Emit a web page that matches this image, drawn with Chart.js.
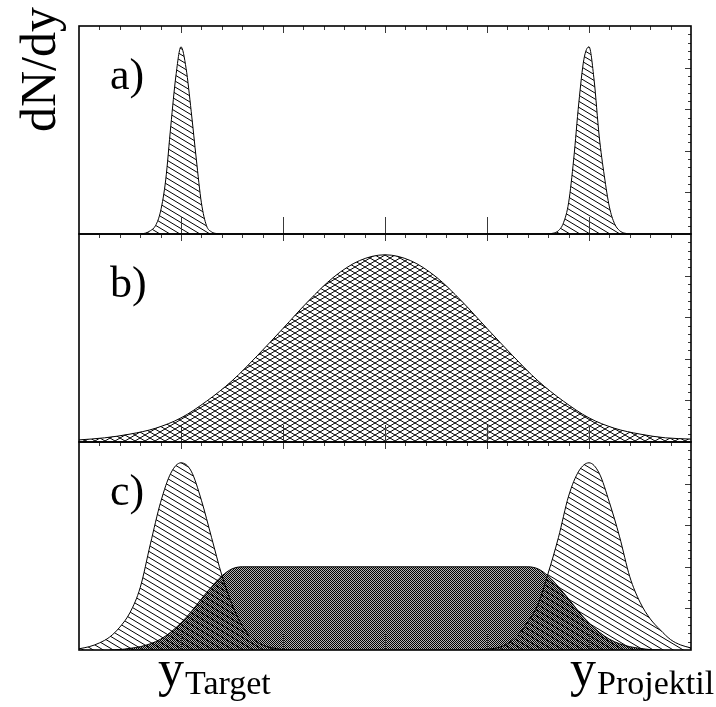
<!DOCTYPE html>
<html>
<head>
<meta charset="utf-8">
<script src="https://cdn.jsdelivr.net/npm/chart.js@4.4.1/dist/chart.umd.min.js"></script>
<style>
  html, body { margin: 0; padding: 0; background: #fff; }
  #wrap { position: relative; width: 716px; height: 707px; }
  #wrap canvas { position: absolute; left: 0; top: 0; }
</style>
</head>
<body>
<div id="wrap">
  <canvas id="panelA" width="716" height="707"></canvas>
  <canvas id="panelB" width="716" height="707"></canvas>
  <canvas id="panelC" width="716" height="707"></canvas>
</div>
<script>
// Rapidity axis (arbitrary units) and panel captions
const xRange = [0, 6];
const yRange = [0, 5];
const majorTicksX = [1, 2, 3, 4, 5];
const panelLabels = ['a)', 'b)', 'c)'];
const axisTitle = 'dN/dy';
const targetLabel = ['y', 'Target'];
const projectileLabel = ['y', 'Projektil'];

// a) narrow target and projectile peaks
const aTargetX = [0.6, 0.65, 0.7, 0.75, 0.8, 0.85, 0.9, 0.95, 1.0, 1.05, 1.1, 1.15, 1.2, 1.25, 1.3, 1.35, 1.4];
const aTargetY = [0, 0.02, 0.08, 0.2, 0.55, 1.3, 2.6, 3.8, 4.5, 3.98, 2.95, 1.8, 0.75, 0.2, 0.05, 0.01, 0];
const aProjX = [4.6, 4.65, 4.7, 4.75, 4.8, 4.85, 4.9, 4.95, 5.0, 5.05, 5.1, 5.15, 5.2, 5.25, 5.3, 5.35, 5.4];
const aProjY = [0, 0.02, 0.08, 0.27, 0.75, 1.8, 3.15, 4.2, 4.5, 3.7, 2.35, 1.4, 0.65, 0.25, 0.08, 0.02, 0];

// b) single broad central distribution
const bX = [0, 0.25, 0.5, 0.75, 1.0, 1.25, 1.5, 1.75, 2.0, 2.25, 2.5, 2.75, 3.0,
            3.25, 3.5, 3.75, 4.0, 4.25, 4.5, 4.75, 5.0, 5.25, 5.5, 5.75, 6.0];
const bY = [0.05, 0.1, 0.19, 0.33, 0.58, 0.98, 1.47, 2.08, 2.73, 3.39, 3.97, 4.36, 4.5,
            4.36, 3.97, 3.39, 2.73, 2.08, 1.47, 0.98, 0.58, 0.33, 0.19, 0.1, 0.07];

// c) broadened fragmentation peaks plus central plateau
const cTargetX = [0, 0.1, 0.2, 0.3, 0.4, 0.5, 0.6, 0.7, 0.8, 0.9, 1.0, 1.1, 1.2, 1.3, 1.4, 1.5, 1.6, 1.7, 1.8, 1.9, 2.0, 2.1];
const cTargetY = [0.03, 0.08, 0.17, 0.31, 0.55, 0.9, 1.5, 2.55, 3.55, 4.25, 4.5, 4.3, 3.6, 2.7, 1.8, 1.1, 0.58, 0.28, 0.12, 0.05, 0.01, 0];
const cProjX = [3.9, 4.0, 4.1, 4.2, 4.3, 4.4, 4.5, 4.6, 4.7, 4.8, 4.9, 5.0, 5.1, 5.2, 5.3, 5.4, 5.5, 5.6, 5.7, 5.8, 5.9, 6.0];
const cProjY = [0, 0.02, 0.05, 0.15, 0.35, 0.68, 1.1, 1.85, 2.7, 3.7, 4.3, 4.5, 4.25, 3.55, 2.72, 1.76, 1.15, 0.75, 0.48, 0.25, 0.12, 0.05];
const cPlateauX = [0.3, 0.4, 0.5, 0.6, 0.7, 0.8, 0.9, 1.0, 1.1, 1.2, 1.3, 1.4, 1.5, 1.6,
                   4.4, 4.5, 4.6, 4.7, 4.8, 4.9, 5.0, 5.1, 5.2, 5.3, 5.4, 5.5, 5.6, 5.7];
const cPlateauY = [0, 0.01, 0.04, 0.08, 0.15, 0.26, 0.43, 0.65, 0.92, 1.23, 1.52, 1.78, 1.95, 2.0,
                   2.0, 1.95, 1.78, 1.52, 1.23, 0.92, 0.65, 0.43, 0.26, 0.15, 0.08, 0.04, 0.01, 0];

// Page frame geometry: shared horizontal extent, three stacked panels
const CANVAS_W = 716, CANVAS_H = 707;
const AREA_LEFT = 79, AREA_RIGHT = 691;
const PANEL_TOPS = [26, 234, 442];
const PANEL_H = 208;
const SERIF = '"Liberation Serif", "DejaVu Serif", serif';

function zip(xs, ys) { return xs.map((x, i) => ({ x: x, y: ys[i] })); }

// Fill patterns
function hatchPattern(cross) {
  const W = 10, H = 6;
  const t = document.createElement('canvas');
  t.width = W; t.height = H;
  const g = t.getContext('2d');
  g.strokeStyle = '#000';
  g.lineWidth = 1.0;
  for (let k = -1; k <= 1; k++) {
    g.beginPath();
    g.moveTo(-W, -H + k * H); g.lineTo(2 * W, 2 * H + k * H);
    g.stroke();
  }
  if (cross) {
    for (let k = -1; k <= 2; k++) {
      g.beginPath();
      g.moveTo(-W, 2 * H + (k - 1) * H); g.lineTo(2 * W, -H + (k - 1) * H);
      g.stroke();
    }
  }
  return g.createPattern(t, 'repeat');
}
function dotPattern() {
  const t = document.createElement('canvas');
  t.width = 2; t.height = 2;
  const g = t.getContext('2d');
  g.fillStyle = '#000';
  g.fillRect(0, 0, 2, 2);
  g.fillStyle = '#b4b4b4';
  g.fillRect(1, 0, 1, 1);
  g.fillRect(0, 1, 1, 1);
  return g.createPattern(t, 'repeat');
}

// Frame with inward ticks, plus per-panel caption
const framePlugin = {
  id: 'frame',
  afterDraw(chart, args, opts) {
    const { ctx, chartArea: a, scales } = chart;
    const xs = scales.x, ys = scales.y;
    ctx.save();
    ctx.strokeStyle = '#3a3a3a';
    ctx.lineWidth = 1;
    ctx.beginPath();
    // top edge: minor every 0.2, major at integers
    for (let i = 1; i < 30; i++) {
      const v = i * 0.2;
      const px = Math.round(xs.getPixelForValue(v)) + 0.5;
      const len = (i % 5 === 0) ? 7 : 4;
      ctx.moveTo(px, a.top); ctx.lineTo(px, a.top + len);
    }
    // bottom edge: long major ticks
    majorTicksX.forEach(v => {
      const px = Math.round(xs.getPixelForValue(v)) + 0.5;
      ctx.moveTo(px, a.bottom); ctx.lineTo(px, a.bottom - 17);
    });
    // right edge
    for (let i = 1; i < 25; i++) {
      const v = i * 0.2;
      const py = Math.round(ys.getPixelForValue(v)) + 0.5;
      const len = (i % 5 === 0) ? 6 : 3;
      ctx.moveTo(a.right, py); ctx.lineTo(a.right - len, py);
    }
    ctx.stroke();
    ctx.strokeStyle = '#000';
    ctx.lineWidth = 1.6;
    ctx.strokeRect(a.left, a.top, a.right - a.left, a.bottom - a.top);

    ctx.fillStyle = '#000';
    ctx.font = '44px ' + SERIF;
    ctx.textBaseline = 'alphabetic';
    ctx.textAlign = 'left';
    ctx.fillText(opts.label, 110, a.top + 63);

    if (opts.title) {
      ctx.save();
      ctx.font = '50px ' + SERIF;
      ctx.translate(55, 132);
      ctx.rotate(-Math.PI / 2);
      ctx.fillText(opts.title, 0, 0);
      ctx.restore();
    }
    if (opts.bottomLabels) {
      opts.bottomLabels.forEach(lb => {
        ctx.font = '52px ' + SERIF;
        ctx.fillText(lb.text[0], lb.x, 686);
        const w = ctx.measureText(lb.text[0]).width;
        ctx.font = '34px ' + SERIF;
        ctx.fillText(lb.text[1], lb.x + w + 1, 694);
      });
    }
    ctx.restore();
  }
};

function panelOptions(index, extra) {
  const top = PANEL_TOPS[index];
  return {
    responsive: false,
    animation: false,
    events: [],
    layout: {
      autoPadding: false,
      padding: { left: AREA_LEFT, right: CANVAS_W - AREA_RIGHT, top: top, bottom: CANVAS_H - (top + PANEL_H) }
    },
    plugins: {
      legend: { display: false },
      tooltip: { enabled: false },
      frame: Object.assign({ label: panelLabels[index] }, extra || {})
    },
    scales: {
      x: { type: 'linear', min: xRange[0], max: xRange[1], display: false },
      y: { type: 'linear', min: yRange[0], max: yRange[1], display: false }
    },
    elements: { point: { radius: 0 } }
  };
}

function curve(xs, ys, fillStyle, order) {
  return {
    data: zip(xs, ys),
    fill: 'origin',
    backgroundColor: fillStyle,
    borderColor: '#000',
    borderWidth: 1,
    cubicInterpolationMode: 'monotone',
    pointRadius: 0,
    order: order
  };
}

const ctxA = document.getElementById('panelA').getContext('2d');
const ctxB = document.getElementById('panelB').getContext('2d');
const ctxC = document.getElementById('panelC').getContext('2d');

new Chart(ctxA, {
  type: 'line',
  data: { datasets: [
    curve(aTargetX, aTargetY, hatchPattern(false), 1),
    curve(aProjX, aProjY, hatchPattern(false), 1)
  ] },
  options: panelOptions(0, { title: axisTitle }),
  plugins: [framePlugin]
});

new Chart(ctxB, {
  type: 'line',
  data: { datasets: [ curve(bX, bY, hatchPattern(true), 1) ] },
  options: panelOptions(1),
  plugins: [framePlugin]
});

new Chart(ctxC, {
  type: 'line',
  data: { datasets: [
    curve(cTargetX, cTargetY, hatchPattern(false), 1),
    curve(cProjX, cProjY, hatchPattern(false), 1),
    curve(cPlateauX, cPlateauY, dotPattern(), 2)
  ] },
  options: panelOptions(2, {
    bottomLabels: [
      { text: targetLabel, x: 158 },
      { text: projectileLabel, x: 570 }
    ]
  }),
  plugins: [framePlugin]
});
</script>
</body>
</html>
